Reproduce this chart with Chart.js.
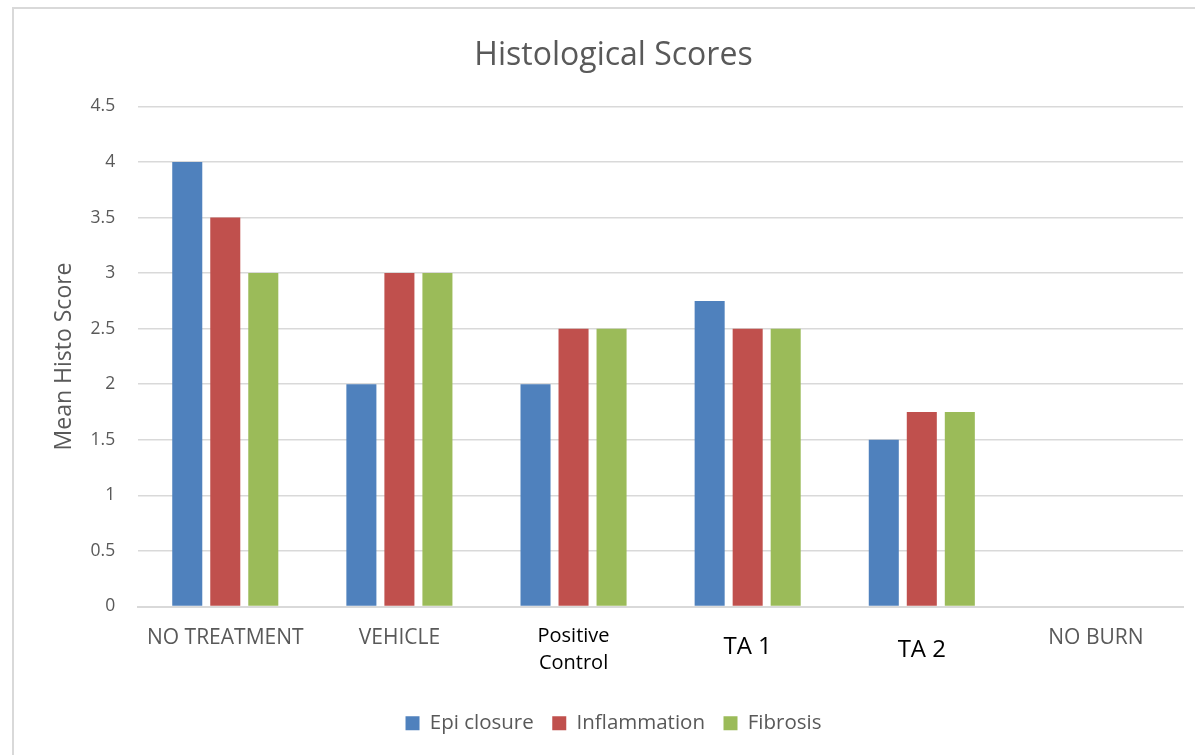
<!DOCTYPE html>
<html>
<head>
<meta charset="utf-8">
<script src="https://cdn.jsdelivr.net/npm/chart.js"></script>
<style>
  body { margin: 0; background: #fff; }
  #frame {
    position: absolute; left: 12px; top: 7px;
    width: 1190px; height: 760px;
    border: 2px solid #d9d9d9; box-sizing: border-box;
  }
  #wrap { position: absolute; left: 0; top: 0; width: 1186px; height: 756px; }
</style>
</head>
<body>
<div id="frame"><div id="wrap"><canvas id="histo-chart"></canvas></div></div>
<script>
// data
const groups = ['NO TREATMENT', 'VEHICLE', ['Positive', 'Control'], 'TA 1', 'TA 2', 'NO BURN'];
const epiClosure = [4, 2, 2, 2.75, 1.5, 0];
const inflammation = [3.5, 3, 2.5, 2.5, 1.75, 0];
const fibrosis = [3, 3, 2.5, 2.5, 1.75, 0];
const yTicks = [0, 0.5, 1, 1.5, 2, 2.5, 3, 3.5, 4, 4.5];

const FONT = '"Open Sans", "Noto Sans", sans-serif';
const GREY = '#595959';

// x labels use mixed styles in the original
const blackLabels = [2, 3, 4];
function xTickFont(ctx) {
  if (ctx.index === 2) return { family: FONT, size: 20, lineHeight: 1.32 };
  if (ctx.index === 3) return { family: FONT, size: 24, lineHeight: 2.0 };
  if (ctx.index === 4) return { family: FONT, size: 24, lineHeight: 2.25 };
  return { family: FONT, size: 21, lineHeight: 1.35 };
}

new Chart(document.getElementById('histo-chart'), {
  type: 'bar',
  data: {
    labels: groups,
    datasets: [
      { label: 'Epi closure', data: epiClosure, backgroundColor: '#4f81bd' },
      { label: 'Inflammation', data: inflammation, backgroundColor: '#c0504d' },
      { label: 'Fibrosis', data: fibrosis, backgroundColor: '#9bbb59' }
    ]
  },
  options: {
    responsive: true,
    maintainAspectRatio: false,
    animation: false,
    layout: { padding: { left: 30, right: 17, top: 8, bottom: 21.5 } },
    datasets: { bar: { categoryPercentage: 0.655, barPercentage: 0.79 } },
    scales: {
      x: {
        grid: { display: false, drawTicks: false },
        border: { color: '#d9d9d9', width: 2 },
        ticks: {
          padding: 17,
          maxRotation: 0,
          autoSkip: false,
          color: (ctx) => blackLabels.includes(ctx.index) ? '#000' : GREY,
          font: xTickFont
        }
      },
      y: {
        min: 0,
        max: 4.5,
        afterBuildTicks: (axis) => { axis.ticks = yTicks.map(v => ({ value: v })); },
        grid: { color: '#d9d9d9', lineWidth: 1.5, drawTicks: false },
        border: { display: false },
        ticks: {
          padding: 23,
          color: GREY,
          font: { family: FONT, size: 17.5 },
          callback: (v) => String(v)
        },
        title: {
          display: true,
          text: 'Mean Histo Score',
          color: GREY,
          font: { family: FONT, size: 23 },
          padding: { top: 7, bottom: -11 }
        }
      }
    },
    plugins: {
      title: {
        display: true,
        text: 'Histological Scores',
        color: GREY,
        font: { family: FONT, size: 32, weight: 'normal' },
        padding: { top: 20, bottom: 31 }
      },
      legend: {
        position: 'bottom',
        labels: {
          boxWidth: 14,
          boxHeight: 14,
          padding: 18.5,
          color: GREY,
          font: { family: FONT, size: 20.5 }
        }
      },
      tooltip: { enabled: false }
    }
  }
});
</script>
</body>
</html>
